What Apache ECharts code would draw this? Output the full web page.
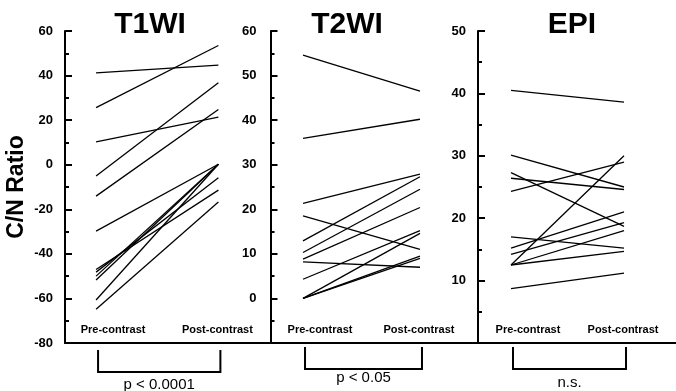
<!DOCTYPE html>
<html>
<head>
<meta charset="utf-8">
<script src="https://cdn.jsdelivr.net/npm/echarts@6/dist/echarts.min.js"></script>
<style>
html,body{margin:0;padding:0;background:#fff;}
#chart{width:676px;height:391px;}
</style>
</head>
<body>
<div id="chart"></div>
<script>
// ---- data ----
const phases = ['Pre-contrast', 'Post-contrast'];
const panelTitles = ['T1WI', 'T2WI', 'EPI'];
const pLabels = ['p < 0.0001', 'p < 0.05', 'n.s.'];
const yAxisName = 'C/N Ratio';

const t1Pre  = [41.2, 25.6, 10.2, -5.1, -14.1, -29.8, -47.0, -48.2, -50.0, -51.7, -60.7, -64.9];
const t1Post = [44.7, 53.5, 21.4, 36.8, 24.8, 0.2, -11.4, -5.8, 0.2, 0.2, 0.2, -16.7];

const t2Pre  = [54.6, 35.9, 21.3, 18.5, 12.9, 10.3, 8.8, 8.2, 4.3, 0, 0, 0];
const t2Post = [46.5, 40.2, 27.9, 11.0, 27.3, 24.5, 20.4, 7.0, 15.2, 14.6, 9.5, 9.0];

const epiPre  = [40.5, 30.1, 27.3, 26.4, 24.3, 17.0, 15.2, 14.2, 12.5, 12.5, 12.5, 8.7];
const epiPost = [38.6, 25.0, 18.7, 24.6, 29.0, 15.2, 21.0, 19.3, 30.0, 18.0, 14.7, 11.2];

const yMin = [-80, -10, 0];
const yMax = [60, 60, 50];
const yInterval = [20, 10, 10];

// ---- build ----
const FONT = '"Liberation Sans", Arial, Helvetica, sans-serif';
const panels = [[t1Pre, t1Post], [t2Pre, t2Post], [epiPre, epiPost]];
const grids = [
  {left: 65, top: 31, width: 205.5, bottom: 48},
  {left: 270.5, top: 31, width: 207.5, bottom: 48},
  {left: 478, top: 31, right: 0, bottom: 48}
];
const xRange = [[-0.254, 1.426], [-0.278, 1.496], [-0.292, 1.46]];

const xAxes = [], yAxes = [], series = [];
panels.forEach((p, i) => {
  xAxes.push({
    gridIndex: i, type: 'value', min: xRange[i][0], max: xRange[i][1],
    splitLine: {show: false},
    axisLine: {show: true, onZero: false, lineStyle: {color: '#000', width: 2}},
    axisTick: {show: false},
    axisLabel: {
      show: true, inside: true, margin: 8,
      customValues: [0, 1],
      formatter: v => v === 0 ? '{pre|' + phases[0] + '}' : (v === 1 ? '{post|' + phases[1] + '}' : ''),
      rich: {
        pre: {fontFamily: FONT, fontSize: 11, fontWeight: 'bold', color: '#000', padding: [0, 0, 0, 34]},
        post: {fontFamily: FONT, fontSize: 11, fontWeight: 'bold', color: '#000', padding: [0, 2, 0, 0]}
      }
    }
  });
  yAxes.push({
    gridIndex: i, type: 'value', min: yMin[i], max: yMax[i], interval: yInterval[i],
    splitLine: {show: false},
    axisLine: {show: true, onZero: false, lineStyle: {color: '#000', width: 2}},
    axisTick: {show: true, inside: true, length: 7, lineStyle: {color: '#000', width: 2}},
    minorTick: {show: true, splitNumber: 2, length: 4, lineStyle: {color: '#000', width: 2}},
    axisLabel: {
      margin: i === 1 ? 14 : 12, fontFamily: FONT, fontSize: 13, fontWeight: 'bold', color: '#000',
      formatter: v => (i > 0 && v === yMin[i]) ? '' : String(v)
    },
    name: i === 0 ? yAxisName : '',
    nameLocation: 'middle', nameRotate: 90, nameGap: 37,
    nameTextStyle: {fontFamily: FONT, fontSize: 23, fontWeight: 'bold', color: '#000'}
  });
  p[0].forEach((v, k) => {
    series.push({
      type: 'line', xAxisIndex: i, yAxisIndex: i,
      data: [[0, p[0][k]], [1, p[1][k]]],
      showSymbol: false, symbol: 'none', silent: true,
      lineStyle: {color: '#000', width: 1.3},
      animation: false
    });
  });
});

const chart = echarts.init(document.getElementById('chart'), null, {renderer: 'canvas'});
chart.setOption({
  animation: false,
  backgroundColor: '#fff',
  grid: grids,
  xAxis: xAxes,
  yAxis: yAxes,
  series: series
});

// annotations: titles, brackets, p-values
const titleCenters = [150, 347, 572];
const bracketTop = [350, 347, 347];
const bracketBottom = [372, 369, 369];
const pTextY = [385, 378, 383];
const graphics = [];
panels.forEach((p, i) => {
  const x0 = chart.convertToPixel({xAxisIndex: i}, 0) + 2;
  const x1 = chart.convertToPixel({xAxisIndex: i}, 1) + 2;
  graphics.push({
    type: 'text', x: titleCenters[i], y: 25,
    style: {text: panelTitles[i], font: 'bold 30px ' + FONT, fill: '#000', textAlign: 'center', textVerticalAlign: 'middle'}
  });
  graphics.push({
    type: 'polyline',
    shape: {points: [[x0, bracketTop[i]], [x0, bracketBottom[i]], [x1, bracketBottom[i]], [x1, bracketTop[i]]]},
    style: {stroke: '#000', lineWidth: 2, fill: null}
  });
  graphics.push({
    type: 'text', x: (x0 + x1) / 2, y: pTextY[i],
    style: {text: pLabels[i], font: '15px ' + FONT, fill: '#000', textAlign: 'center', textVerticalAlign: 'middle'}
  });
});
chart.setOption({graphic: graphics});
</script>
</body>
</html>
